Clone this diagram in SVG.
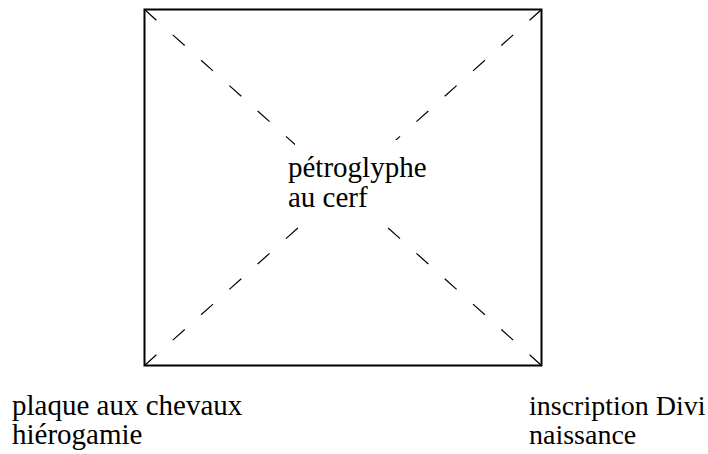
<svg xmlns="http://www.w3.org/2000/svg" width="708" height="454" viewBox="0 0 708 454">
<style>
.t{font-family:"Liberation Serif","Times New Roman",serif;font-size:29px;fill:#000}
.r{font-size:28px}
.d{stroke:#000;stroke-width:1.2;stroke-dasharray:16 22;fill:none}
</style>
<rect width="708" height="454" fill="#fff"/>
<g id="frame"><rect x="144.5" y="9.5" width="397" height="356" fill="none" stroke="#000" stroke-width="2"/></g>
<g id="connectors">
<line class="d" x1="144.5" y1="9.5" x2="343" y2="187.5"/>
<line class="d" x1="541.5" y1="365.5" x2="343" y2="187.5"/>
<line class="d" x1="541.5" y1="9.5" x2="343" y2="187.5"/>
<line class="d" x1="144.5" y1="365.5" x2="343" y2="187.5"/>
</g>
<rect x="295" y="140" width="104" height="79" fill="#fff"/>
<g id="center"><text class="t" x="288" y="177">pétroglyphe</text><text class="t" x="288" y="207">au cerf</text></g>
<g id="bl"><text class="t" x="12" y="415">plaque aux chevaux</text><text class="t" x="12" y="444">hiérogamie</text></g>
<g id="br"><text class="t r" x="529" y="415">inscription Divi</text><text class="t r" x="529" y="444">naissance</text></g>
</svg>
